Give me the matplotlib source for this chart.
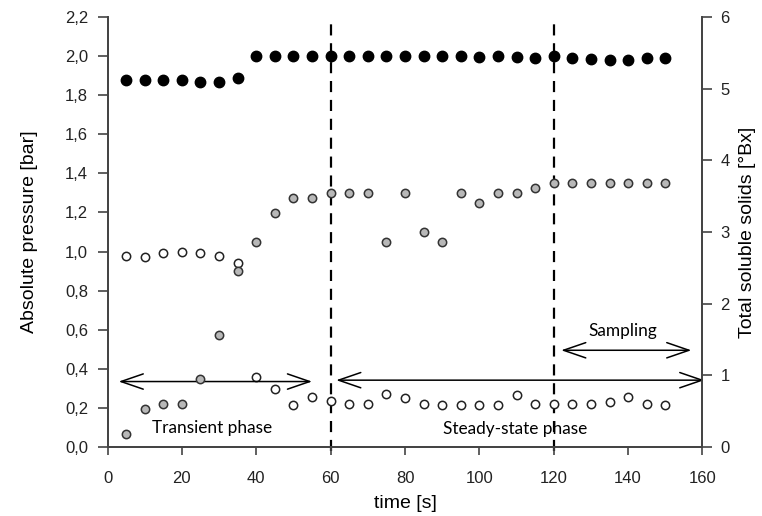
import matplotlib
matplotlib.use("Agg")
import matplotlib.pyplot as plt
from matplotlib.ticker import FuncFormatter, MultipleLocator

# ---- data ----
time = [5, 10, 15, 20, 25, 30, 35, 40, 45, 50, 55, 60, 65, 70, 75, 80, 85, 90,
        95, 100, 105, 110, 115, 120, 125, 130, 135, 140, 145, 150]

pressure_black = [1.88, 1.88, 1.88, 1.88, 1.87, 1.87, 1.89, 2.00, 2.00, 2.00, 2.00, 2.00,
                  2.00, 2.00, 2.00, 2.00, 2.00, 2.00, 2.00, 1.995, 2.00, 1.995, 1.99, 2.00,
                  1.99, 1.985, 1.98, 1.98, 1.99, 1.99]

pressure_open = [0.977, 0.970, 0.991, 0.996, 0.991, 0.977, 0.943, 0.356, 0.295, 0.215,
                 0.256, 0.235, 0.220, 0.220, 0.270, 0.249, 0.220, 0.215, 0.215, 0.215,
                 0.215, 0.266, 0.220, 0.220, 0.220, 0.220, 0.230, 0.254, 0.220, 0.215]

solids_grey = [0.18, 0.53, 0.60, 0.60, 0.95, 1.56, 2.45, 2.86, 3.27, 3.47, 3.47, 3.54,
               3.54, 3.54, 2.86, 3.54, 3.00, 2.86, 3.54, 3.41, 3.54, 3.54, 3.62, 3.68,
               3.68, 3.68, 3.68, 3.68, 3.68, 3.68]

x_ticks = [0, 20, 40, 60, 80, 100, 120, 140, 160]
right_ticks = [0, 1, 2, 3, 4, 5, 6]
phase_lines = [60, 120]

plt.rcParams['font.family'] = ['Liberation Sans', 'DejaVu Sans']

fig = plt.figure(figsize=(7.62, 5.16), dpi=100)
ax = fig.add_axes([0.1411, 0.1337, 0.7808, 0.8333])
ax2 = ax.twinx()

spine_col = '#444444'
for a in (ax, ax2):
    a.spines['top'].set_visible(False)
    for s in ('left', 'right', 'bottom'):
        a.spines[s].set_color(spine_col)
        a.spines[s].set_linewidth(1.3)

ax.set_xlim(0, 160)
ax.set_ylim(0, 2.2)
ax2.set_ylim(0, 6)

ax.set_xticks(x_ticks)
ax.yaxis.set_major_locator(MultipleLocator(0.2))
ax.yaxis.set_major_formatter(FuncFormatter(lambda v, p: f"{v:.1f}".replace('.', ',')))
ax2.set_yticks(right_ticks)

ax.tick_params(axis='x', direction='out', length=6, width=1.2, colors=spine_col,
               labelcolor='#222222', labelsize=12, pad=11)
ax.tick_params(axis='y', direction='out', length=7, width=1.2, colors=spine_col,
               labelcolor='#222222', labelsize=12, pad=7)
ax2.tick_params(axis='y', direction='out', length=7, width=1.2, colors=spine_col,
                labelcolor='#222222', labelsize=12, pad=6)

# dashed phase lines
for xl in phase_lines:
    ax.axvline(xl, ymin=-0.01, ymax=0.985, color='black', lw=1.6, ls=(0, (5, 3.5)),
               clip_on=False, zorder=1)

# data
ax.plot(time, pressure_black, 'o', ms=7.5, mfc='black', mec='black', zorder=3)
ax.plot(time, pressure_open, 'o', ms=6, mfc='white', mec='#222222', mew=1.1, zorder=3)
ax2.plot(time, solids_grey, 'o', ms=6, mfc='#b8b8b8', mec='#333333', mew=1.1, zorder=3)

# annotations
arrow_kw = dict(arrowstyle='<->,head_length=1.6,head_width=0.55', color='black', lw=1.1,
                shrinkA=0, shrinkB=0)
ax.annotate('', xy=(3, 0.335), xytext=(55, 0.335), arrowprops=arrow_kw)
ax.annotate('', xy=(61.5, 0.342), xytext=(160.5, 0.342), arrowprops=arrow_kw,
            annotation_clip=False)
ax.annotate('', xy=(122, 0.495), xytext=(157, 0.495), arrowprops=arrow_kw)

txt_font = ['Lato', 'DejaVu Sans']
ax.text(28.2, 0.095, 'Transient phase', ha='center', va='center', fontsize=12.4,
        family=txt_font)
ax.text(109.6, 0.092, 'Steady-state phase', ha='center', va='center', fontsize=12.4,
        family=txt_font)
ax.text(138.6, 0.595, 'Sampling', ha='center', va='center', fontsize=12.4,
        family=txt_font)

ax.set_xlabel('time [s]', fontsize=14)
ax.set_ylabel('Absolute pressure [bar]', fontsize=14)
ax2.set_ylabel('Total soluble solids [°Bx]', fontsize=14)
ax.xaxis.set_label_coords(0.5, -0.112)
ax.yaxis.set_label_coords(-0.117, 0.5)
ax2.yaxis.set_label_coords(1.0613, 0.5)

fig.savefig('out.png', dpi=100)
